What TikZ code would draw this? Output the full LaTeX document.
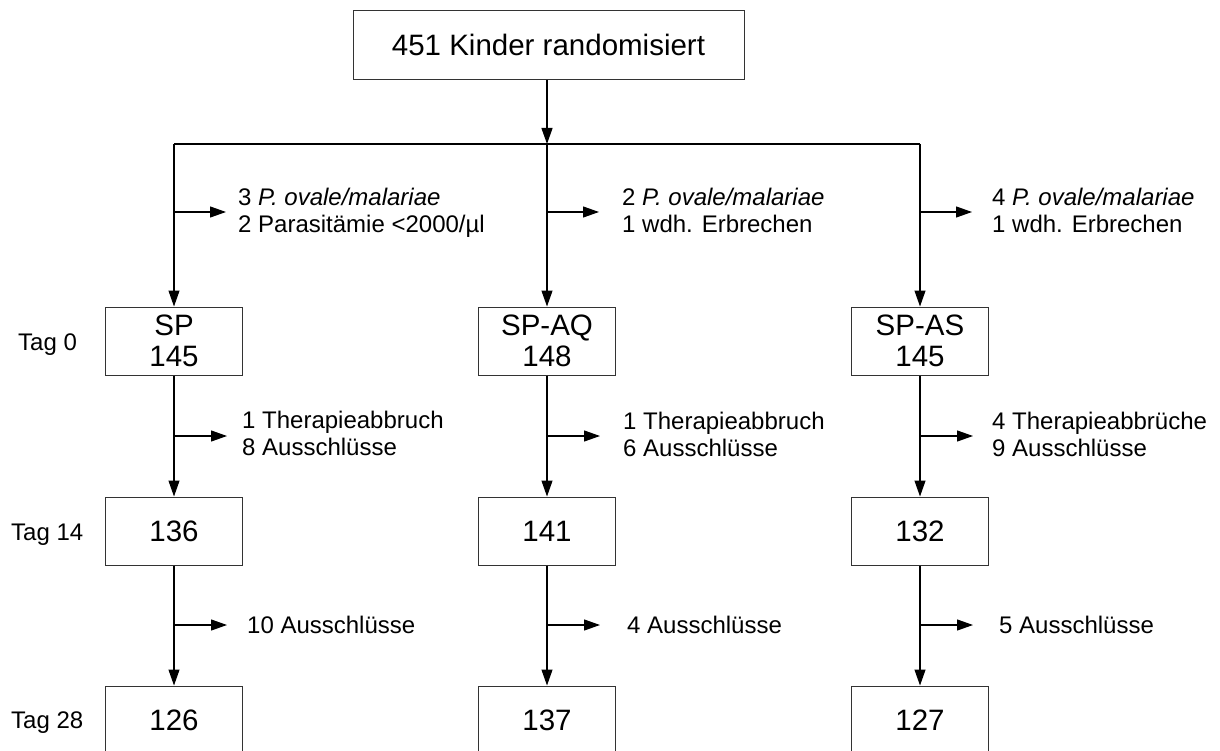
\documentclass[tikz,border=0pt]{standalone}
\usepackage{fontspec}
\setmainfont{Liberation Sans}
\usetikzlibrary{arrows.meta}
\tikzset{
  box/.style={draw=black!80, line width=1pt, minimum width=137pt, minimum height=68pt,
    inner sep=0pt, align=center, font=\fontsize{29.5}{31}\selectfont},
  flow/.style={line width=1.2pt, -{Triangle[length=16pt,width=11pt]}},
  link/.style={line width=1.2pt},
  side/.style={anchor=base west, inner sep=0pt, align=left, font=\fontsize{24}{27}\selectfont},
  tag/.style={anchor=base west, inner sep=0pt, font=\fontsize{24}{27}\selectfont},
}
\begin{document}
\begin{tikzpicture}[x=1pt,y=-1pt]
\useasboundingbox (0,0) rectangle (1220,751);
\clip (0,0) rectangle (1220,751);
% top
\node[box, minimum width=391pt, minimum height=69pt] (top) at (548.5,45) {451 Kinder randomisiert};
\coordinate (jL) at (174,144);
\coordinate (jM) at (547,144);
\coordinate (jR) at (920,144);
\draw[flow] (top.south -| jM) -- (jM);
\draw[link] (jL) -- (jR);
% row 0
\node[box] (sp0) at (174,341) {SP\\145};
\node[box] (aq0) at (547,341) {SP-AQ\\148};
\node[box] (as0) at (920,341) {SP-AS\\145};
% row 14
\node[box] (sp14) at (174,531) {136};
\node[box] (aq14) at (547,531) {141};
\node[box] (as14) at (920,531) {132};
% row 28
\node[box] (sp28) at (174,720) {126};
\node[box] (aq28) at (547,720) {137};
\node[box] (as28) at (920,720) {127};
% vertical flows
\draw[flow] (jL) -- (sp0.north);
\draw[flow] (jM) -- (aq0.north);
\draw[flow] (jR) -- (as0.north);
\draw[flow] (sp0.south) -- (sp14.north);
\draw[flow] (aq0.south) -- (aq14.north);
\draw[flow] (as0.south) -- (as14.north);
\draw[flow] (sp14.south) -- (sp28.north);
\draw[flow] (aq14.south) -- (aq28.north);
\draw[flow] (as14.south) -- (as28.north);
% side branches row 1
\coordinate (bL1) at (174,212); \coordinate (eL1) at (226,212);
\coordinate (bM1) at (547,212); \coordinate (eM1) at (599,212);
\coordinate (bR1) at (920,212); \coordinate (eR1) at (972,212);
\draw[flow] (bL1) -- (eL1);
\draw[flow] (bM1) -- (eM1);
\draw[flow] (bR1) -- (eR1);
\node[side] (tL1) at (238,233) {3 \textit{P. ovale/malariae}\\2 Parasitämie <2000/µl};
\node[side] (tM1) at (622,233) {2 \textit{P. ovale/malariae}\\1 wdh. Erbrechen};
\node[side] (tR1) at (992,233) {4 \textit{P. ovale/malariae}\\1 wdh. Erbrechen};
% side branches row 2
\coordinate (bL2) at (174,436); \coordinate (eL2) at (227,436);
\coordinate (bM2) at (547,436); \coordinate (eM2) at (600,436);
\coordinate (bR2) at (920,436); \coordinate (eR2) at (973,436);
\draw[flow] (bL2) -- (eL2);
\draw[flow] (bM2) -- (eM2);
\draw[flow] (bR2) -- (eR2);
\node[side] (tL2) at (242,455) {1 Therapieabbruch\\8 Ausschlüsse};
\node[side] (tM2) at (623,456) {1 Therapieabbruch\\6 Ausschlüsse};
\node[side] (tR2) at (992,456) {4 Therapieabbrüche\\9 Ausschlüsse};
% side branches row 3
\coordinate (bL3) at (174,625); \coordinate (eL3) at (227,625);
\coordinate (bM3) at (547,625); \coordinate (eM3) at (600,625);
\coordinate (bR3) at (920,625); \coordinate (eR3) at (973,625);
\draw[flow] (bL3) -- (eL3);
\draw[flow] (bM3) -- (eM3);
\draw[flow] (bR3) -- (eR3);
\node[side] (tL3) at (247,633) {10 Ausschlüsse};
\node[side] (tM3) at (627,633) {4 Ausschlüsse};
\node[side] (tR3) at (999,633) {5 Ausschlüsse};
% day labels
\node[tag] (d0) at (18,350) {Tag 0};
\node[tag] (d14) at (11,540) {Tag 14};
\node[tag] (d28) at (11,728) {Tag 28};
\end{tikzpicture}
\end{document}
